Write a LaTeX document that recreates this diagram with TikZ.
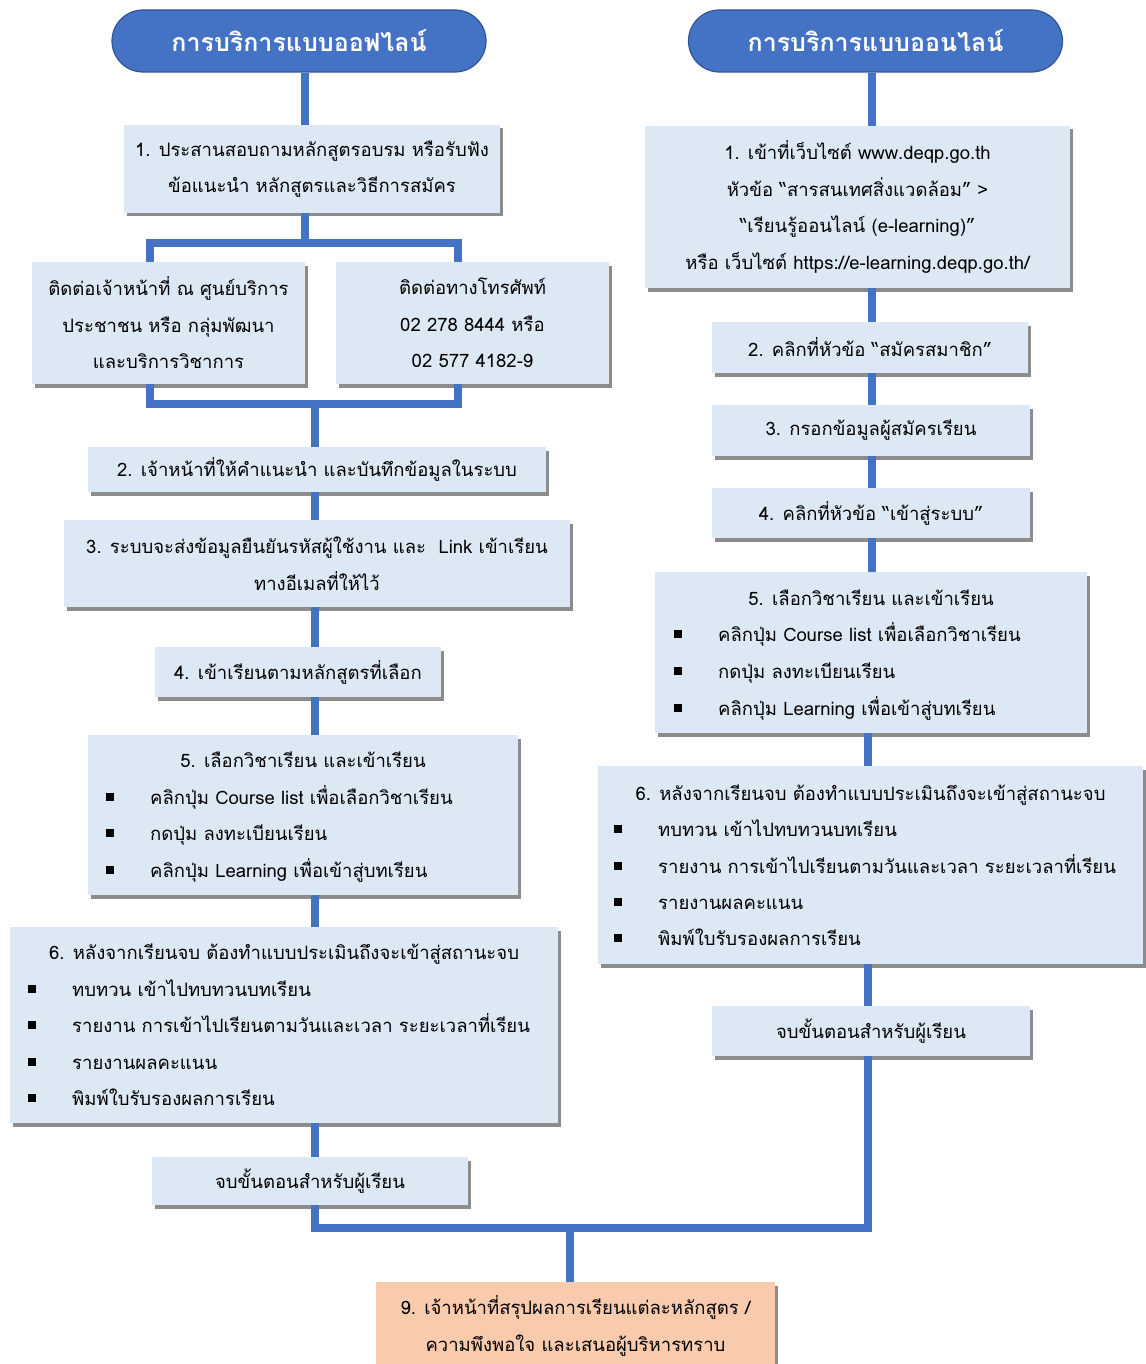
\documentclass[tikz,border=0pt]{standalone}
\usepackage{fontspec}
\setmainfont[Script=Thai]{Loma}
\usetikzlibrary{shadows}
\definecolor{hdr}{HTML}{4472C4}
\definecolor{hdrd}{HTML}{2F5597}
\definecolor{boxf}{HTML}{DDE8F5}
\definecolor{org}{HTML}{F8CBAD}
\newcommand\fs{\fontsize{18.5}{36.5}\selectfont}
\tikzset{
  conn/.style={draw=hdr, line width=8pt, line join=miter},
  hdrbox/.style={fill=hdr, draw=hdrd, line width=1.2pt, rounded corners=31pt, text=white,
    font=\fontsize{25}{28}\selectfont\bfseries, inner sep=0, minimum height=62pt, minimum width=374pt},
  box/.style={fill=boxf, draw=none, inner sep=0, align=center, font=\fs,
    drop shadow={shadow xshift=3pt, shadow yshift=-3.5pt, fill=black!75, opacity=0.6}},
  obox/.style={box, fill=org},
  txt/.style={inner sep=0, anchor=base west, font=\fs},
  ttl/.style={inner sep=0, anchor=base, font=\fs},
  bul/.style={fill=black, minimum size=7.5pt, inner sep=0},
}
\begin{document}
\begin{tikzpicture}[x=1pt, y={(0pt,-1pt)}]
\useasboundingbox (0,0) rectangle (1145,1364);
\fill[white] (0,0) rectangle (1145,1364);

% ---------- headers
\node[hdrbox] (hl) at (299,41) {การบริการแบบออฟไลน์};
\node[hdrbox] (hr) at (875.5,41) {การบริการแบบออนไลน์};

% ---------- left column
\node[box, minimum width=376pt, minimum height=88pt] (l1) at (312,169)
  {1. ประสานสอบถามหลักสูตรอบรม หรือรับฟัง\\ข้อแนะนำ หลักสูตรและวิธีการสมัคร};
\node[box, minimum width=273pt, minimum height=122pt] (l1a) at (168.5,323)
  {ติดต่อเจ้าหน้าที่ ณ ศูนย์บริการ\\ประชาชน หรือ กลุ่มพัฒนา\\และบริการวิชาการ};
\node[box, minimum width=273pt, minimum height=122pt] (l1b) at (472.5,323)
  {ติดต่อทางโทรศัพท์\\02 278 8444 หรือ\\02 577 4182-9};
\node[box, minimum width=458pt, minimum height=45pt] (l2) at (317,469.5)
  {2. เจ้าหน้าที่ให้คำแนะนำ และบันทึกข้อมูลในระบบ};
\node[box, minimum width=506pt, minimum height=87pt] (l3) at (317,563.5)
  {3. ระบบจะส่งข้อมูลยืนยันรหัสผู้ใช้งาน และ~ Link เข้าเรียน\\ทางอีเมลที่ให้ไว้};
\node[box, minimum width=286pt, minimum height=50pt] (l4) at (298,672)
  {4. เข้าเรียนตามหลักสูตรที่เลือก};
\node[box, minimum width=430pt, minimum height=160pt] (l5) at (303,815) {};
\node[ttl] (l5t) at (303,767) {5. เลือกวิชาเรียน และเข้าเรียน};
\node[bul] (l5b1) at (110,797) {};
\node[bul] (l5b2) at (110,833) {};
\node[bul] (l5b3) at (110,870) {};
\node[txt] (l5x1) at (150,804) {คลิกปุ่ม Course list เพื่อเลือกวิชาเรียน};
\node[txt] (l5x2) at (150,840) {กดปุ่ม ลงทะเบียนเรียน};
\node[txt] (l5x3) at (150,877) {คลิกปุ่ม Learning เพื่อเข้าสู่บทเรียน};

\node[box, minimum width=548pt, minimum height=196pt] (l6) at (284,1025) {};
\node[ttl] (l6t) at (284,959) {6. หลังจากเรียนจบ ต้องทำแบบประเมินถึงจะเข้าสู่สถานะจบ};
\node[bul] (l6b1) at (32,989) {};
\node[bul] (l6b2) at (32,1025) {};
\node[bul] (l6b3) at (32,1062) {};
\node[bul] (l6b4) at (32,1098) {};
\node[txt] (l6x1) at (72,996) {ทบทวน เข้าไปทบทวนบทเรียน};
\node[txt] (l6x2) at (72,1032) {รายงาน การเข้าไปเรียนตามวันและเวลา ระยะเวลาที่เรียน};
\node[txt] (l6x3) at (72,1069) {รายงานผลคะแนน};
\node[txt] (l6x4) at (72,1105) {พิมพ์ใบรับรองผลการเรียน};

\node[box, minimum width=316pt, minimum height=48pt] (l7) at (310,1181)
  {จบขั้นตอนสำหรับผู้เรียน};

% ---------- right column
\node[box, minimum width=425pt, minimum height=162pt] (r1) at (857.5,207)
  {1. เข้าที่เว็บไซต์ www.deqp.go.th\\หัวข้อ “สารสนเทศสิ่งแวดล้อม” >\\“เรียนรู้ออนไลน์ (e-learning)”\\หรือ เว็บไซต์ https://e-learning.deqp.go.th/};
\node[box, minimum width=316pt, minimum height=51pt] (r2) at (870,347.5)
  {2. คลิกที่หัวข้อ “สมัครสมาชิก”};
\node[box, minimum width=318pt, minimum height=51pt] (r3) at (871,430.5)
  {3. กรอกข้อมูลผู้สมัครเรียน};
\node[box, minimum width=318pt, minimum height=50pt] (r4) at (871,513)
  {4. คลิกที่หัวข้อ “เข้าสู่ระบบ”};
\node[box, minimum width=432pt, minimum height=161pt] (r5) at (871,652.5) {};
\node[ttl] (r5t) at (871,605) {5. เลือกวิชาเรียน และเข้าเรียน};
\node[bul] (r5b1) at (678,634) {};
\node[bul] (r5b2) at (678,671) {};
\node[bul] (r5b3) at (678,708) {};
\node[txt] (r5x1) at (718,641) {คลิกปุ่ม Course list เพื่อเลือกวิชาเรียน};
\node[txt] (r5x2) at (718,678) {กดปุ่ม ลงทะเบียนเรียน};
\node[txt] (r5x3) at (718,715) {คลิกปุ่ม Learning เพื่อเข้าสู่บทเรียน};

\node[box, minimum width=545pt, minimum height=198pt] (r6) at (870.5,865) {};
\node[ttl] (r6t) at (870.5,800) {6. หลังจากเรียนจบ ต้องทำแบบประเมินถึงจะเข้าสู่สถานะจบ};
\node[bul] (r6b1) at (618,829) {};
\node[bul] (r6b2) at (618,866) {};
\node[bul] (r6b3) at (618,902) {};
\node[bul] (r6b4) at (618,938) {};
\node[txt] (r6x1) at (658,836) {ทบทวน เข้าไปทบทวนบทเรียน};
\node[txt] (r6x2) at (658,873) {รายงาน การเข้าไปเรียนตามวันและเวลา ระยะเวลาที่เรียน};
\node[txt] (r6x3) at (658,909) {รายงานผลคะแนน};
\node[txt] (r6x4) at (658,945) {พิมพ์ใบรับรองผลการเรียน};

\node[box, minimum width=318pt, minimum height=50pt] (r7) at (871,1031)
  {จบขั้นตอนสำหรับผู้เรียน};

% ---------- final
\node[obox, minimum width=399pt, minimum height=88pt] (fin) at (575.5,1326)
  {9. เจ้าหน้าที่สรุปผลการเรียนแต่ละหลักสูตร /\\ความพึงพอใจ และเสนอผู้บริหารทราบ};

% ---------- connector guides
\coordinate (tl) at (305,0);
\coordinate (tl2) at (315,0);
\coordinate (bl) at (150,0);
\coordinate (br) at (458,0);
\coordinate (bt) at (0,243);
\coordinate (bb) at (0,404);
\coordinate (jn) at (0,1228);
\coordinate (tr) at (872,0);
\coordinate (tr2) at (868,0);
\coordinate (tm) at (570,0);

% ---------- connectors
\draw[conn] (hl.south -| tl) -- (l1.north -| tl);
\draw[conn] (l1.south -| tl) -- (tl |- bt);
\draw[conn] (l1a.north -| bl) -- (bl |- bt) -- (br |- bt) -- (l1b.north -| br);
\draw[conn] (l1a.south -| bl) -- (bl |- bb) -- (br |- bb) -- (l1b.south -| br);
\draw[conn] (tl2 |- bb) -- (l2.north -| tl2);
\draw[conn] (l2.south -| tl2) -- (l3.north -| tl2);
\draw[conn] (l3.south -| tl2) -- (l4.north -| tl2);
\draw[conn] (l4.south -| tl2) -- (l5.north -| tl2);
\draw[conn] (l5.south -| tl2) -- (l6.north -| tl2);
\draw[conn] (l6.south -| tl2) -- (l7.north -| tl2);
\draw[conn] (l7.south -| tl2) -- (tl2 |- jn) -- (tr2 |- jn) -- (r7.south -| tr2);
\draw[conn] (tm |- jn) -- (fin.north -| tm);

\draw[conn] (hr.south -| tr) -- (r1.north -| tr);
\draw[conn] (r1.south -| tr) -- (r2.north -| tr);
\draw[conn] (r2.south -| tr) -- (r3.north -| tr);
\draw[conn] (r3.south -| tr) -- (r4.north -| tr);
\draw[conn] (r4.south -| tr) -- (r5.north -| tr);
\draw[conn] (r5.south -| tr2) -- (r6.north -| tr2);
\draw[conn] (r6.south -| tr2) -- (r7.north -| tr2);
\end{tikzpicture}
\end{document}
